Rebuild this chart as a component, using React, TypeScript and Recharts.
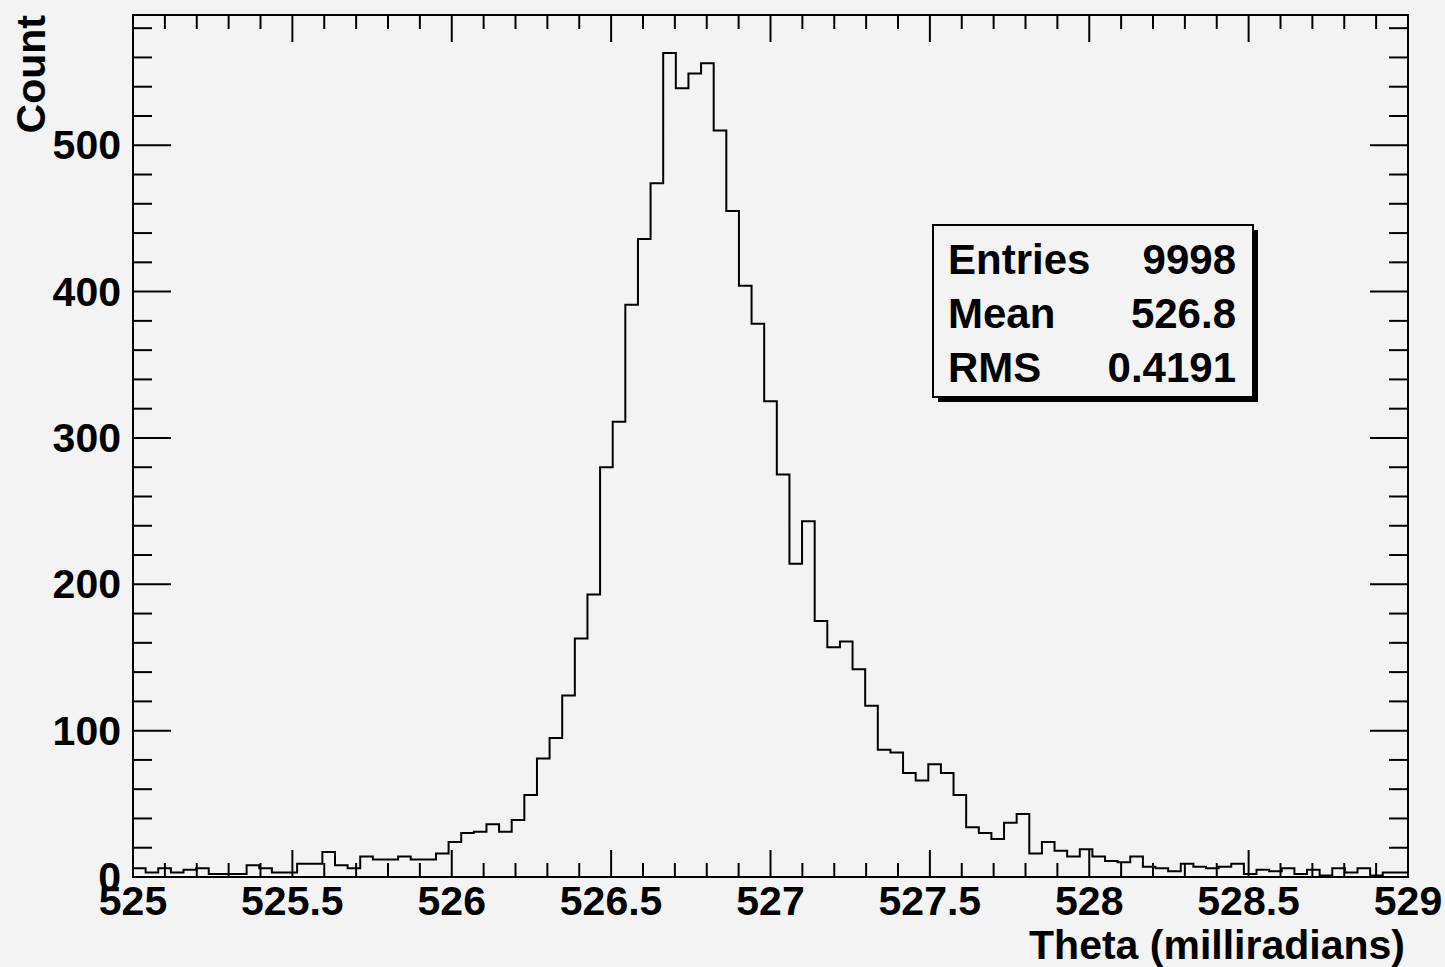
import React from "react";
import { LineChart, Line, XAxis, YAxis, ReferenceArea, Label } from "recharts";

// axis range
const X_MIN = 525;
const X_MAX = 529;
const Y_MAX = 589;

// bin contents, left to right (101 equal bins from 525 to 529)
const countsLeftTail = [6, 3, 6, 3, 5, 6, 2, 2, 2, 8, 6, 3, 3, 9, 9, 17, 8, 6, 14, 12, 12, 14, 12, 12, 16];
const countsRise = [24, 30, 31, 36, 31, 39, 56, 81, 95, 124, 163, 193, 280, 311, 391, 436, 474, 563, 539, 549, 556, 510, 455, 404, 378];
const countsFall = [325, 275, 214, 243, 175, 157, 161, 142, 117, 87, 85, 71, 66, 77, 71, 56, 34, 30, 26, 37, 43, 16, 24, 18, 14];
const countsRightTail = [19, 14, 11, 10, 14, 7, 6, 4, 9, 7, 6, 7, 9, 2, 5, 4, 6, 2, 5, 1, 6, 3, 6, 1, 3, 3];

// ticks
const xMajorTicks = [525, 525.5, 526, 526.5, 527, 527.5, 528, 528.5, 529];
const xMinorTicks = [
  525.1, 525.2, 525.3, 525.4, 525.6, 525.7, 525.8, 525.9,
  526.1, 526.2, 526.3, 526.4, 526.6, 526.7, 526.8, 526.9,
  527.1, 527.2, 527.3, 527.4, 527.6, 527.7, 527.8, 527.9,
  528.1, 528.2, 528.3, 528.4, 528.6, 528.7, 528.8, 528.9,
];
const yMajorTicks = [0, 100, 200, 300, 400, 500];
const yMinorTicks = [
  20, 40, 60, 80, 120, 140, 160, 180, 220, 240, 260, 280,
  320, 340, 360, 380, 420, 440, 460, 480, 520, 540, 560, 580,
];

// stats box
const statNames = ["Entries", "Mean", "RMS"];
const statValues = ["9998", "526.8", "0.4191"];

const counts = [...countsLeftTail, ...countsRise, ...countsFall, ...countsRightTail];
const binWidth = (X_MAX - X_MIN) / counts.length;
const histData = counts.map((c, i) => ({ x: X_MIN + i * binWidth, count: c }));
histData.push({ x: X_MAX, count: counts[counts.length - 1] });

const W = 1445;
const H = 967;
const PLOT_LEFT = 133;
const PLOT_RIGHT = 1408;
const PLOT_TOP = 15;
const PLOT_BOTTOM = 877;

const BG = "#f3f3f3";
const font = "'Liberation Sans', Arial, Helvetica, sans-serif";
const textStyle = { fontFamily: font, fontWeight: 700, fontSize: 41, fill: "#000" };

const XTick = (props: any) => {
  const { x, payload } = props;
  const v = payload.value as number;
  const major = xMajorTicks.includes(v);
  const len = major ? 27 : 14;
  return (
    <g>
      <line x1={x} x2={x} y1={PLOT_BOTTOM} y2={PLOT_BOTTOM - len} stroke="#000" strokeWidth={2} />
      <line x1={x} x2={x} y1={PLOT_TOP} y2={PLOT_TOP + len} stroke="#000" strokeWidth={2} />
      {major && (
        <text x={x} y={915} textAnchor="middle" style={textStyle}>
          {String(v)}
        </text>
      )}
    </g>
  );
};

const YTick = (props: any) => {
  const { y, payload } = props;
  const v = payload.value as number;
  const major = yMajorTicks.includes(v);
  const len = major ? 38 : 19;
  return (
    <g>
      <line x1={PLOT_LEFT} x2={PLOT_LEFT + len} y1={y} y2={y} stroke="#000" strokeWidth={2} />
      <line x1={PLOT_RIGHT} x2={PLOT_RIGHT - len} y1={y} y2={y} stroke="#000" strokeWidth={2} />
      {major && (
        <text x={121} y={y + 14} textAnchor="end" style={textStyle}>
          {String(v)}
        </text>
      )}
    </g>
  );
};

const StatsBox = () => {
  const bx = 933, by = 225, bw = 320, bh = 172;
  return (
    <svg
      width={W}
      height={H}
      style={{ position: "absolute", left: 0, top: 0, pointerEvents: "none" }}
    >
      <rect x={bx + 5} y={by + 5} width={bw} height={bh} fill="#000" />
      <rect x={bx} y={by} width={bw} height={bh} fill={BG} stroke="#000" strokeWidth={2} />
      {statNames.map((name, i) => (
        <g key={name}>
          <text x={948} y={274 + i * 54} style={{ ...textStyle, fontSize: 42 }}>
            {name}
          </text>
          <text x={1236} y={274 + i * 54} textAnchor="end" style={{ ...textStyle, fontSize: 42 }}>
            {statValues[i]}
          </text>
        </g>
      ))}
    </svg>
  );
};

export default function App() {
  const xTicks = [...xMajorTicks, ...xMinorTicks].sort((a, b) => a - b);
  const yTicks = [...yMajorTicks, ...yMinorTicks].sort((a, b) => a - b);

  return (
    <div style={{ position: "absolute", left: 0, top: 0, width: W, height: H, background: BG }}>
      <LineChart
        width={W}
        height={H}
        data={histData}
        margin={{ top: PLOT_TOP, right: W - PLOT_RIGHT, bottom: 0, left: 0 }}
      >
        <XAxis
          dataKey="x"
          type="number"
          domain={[X_MIN, X_MAX]}
          ticks={xTicks}
          interval={0}
          height={H - PLOT_BOTTOM}
          axisLine={false}
          tickLine={false}
          tick={<XTick />}
        >
          <Label
            content={() => (
              <text x={1405} y={959} textAnchor="end" style={textStyle}>
                Theta (milliradians)
              </text>
            )}
          />
        </XAxis>
        <YAxis
          type="number"
          domain={[0, Y_MAX]}
          ticks={yTicks}
          interval={0}
          width={PLOT_LEFT}
          axisLine={false}
          tickLine={false}
          tick={<YTick />}
        >
          <Label
            content={() => (
              <text transform={`translate(45, ${PLOT_TOP}) rotate(-90)`} textAnchor="end" style={textStyle}>
                Count
              </text>
            )}
          />
        </YAxis>
        <ReferenceArea
          x1={X_MIN}
          x2={X_MAX}
          y1={0}
          y2={Y_MAX}
          fill="none"
          fillOpacity={0}
          stroke="#000"
          strokeWidth={2}
          strokeOpacity={1}
        />
        <Line
          type="stepAfter"
          dataKey="count"
          stroke="#000"
          strokeWidth={2}
          dot={false}
          activeDot={false}
          isAnimationActive={false}
        />
      </LineChart>
      <StatsBox />
    </div>
  );
}
